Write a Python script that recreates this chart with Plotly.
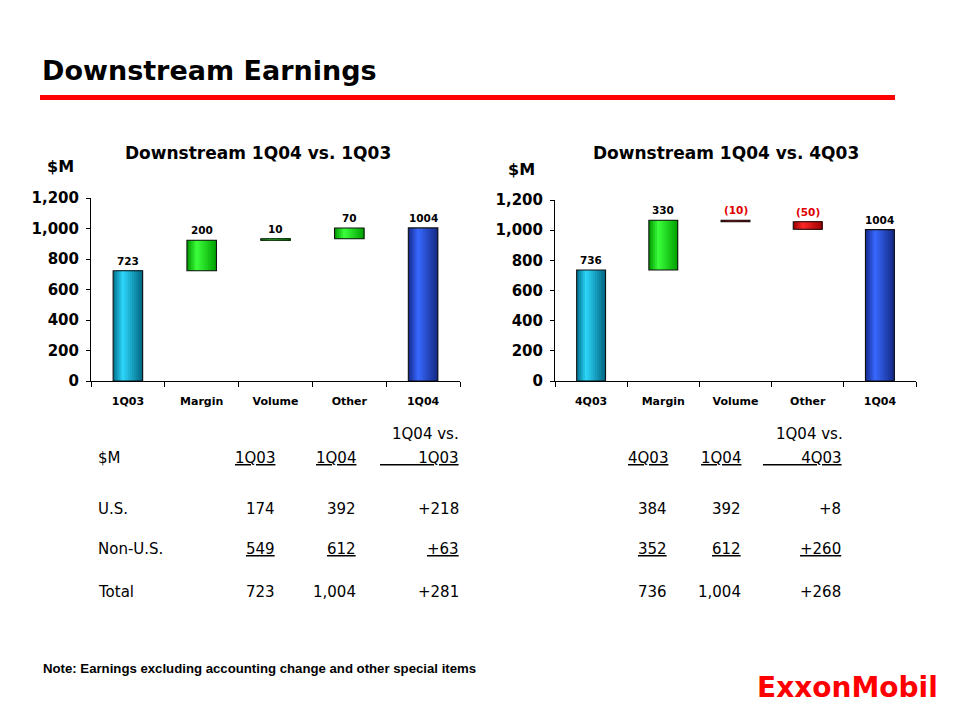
import plotly.graph_objects as go

# ---------------- data ----------------
left_categories = ["1Q03", "Margin", "Volume", "Other", "1Q04"]
left_values = [723, 200, 10, 70, 1004]
left_measures = ["absolute", "relative", "relative", "relative", "total"]

right_categories = ["4Q03", "Margin", "Volume", "Other", "1Q04"]
right_values = [736, 330, -10, -50, 1004]
right_measures = ["absolute", "relative", "relative", "relative", "total"]

y_tick_values = [0, 200, 400, 600, 800, 1000, 1200]

table_rows = ["U.S.", "Non-U.S.", "Total"]
left_table_prev = [174, 549, 723]      # 1Q03
left_table_curr = [392, 612, 1004]     # 1Q04
left_table_diff = [218, 63, 281]
right_table_prev = [384, 352, 736]     # 4Q03
right_table_curr = [392, 612, 1004]    # 1Q04
right_table_diff = [8, 260, 268]

W, H = 959, 719
# the page photo maps figure y -> 7 + 0.98*y; compensate so targets land right
Y_OFF, Y_SCALE = 7.0, 0.98


def px(x):
    return x / W


def py(y):
    return 1 - ((y - Y_OFF) / Y_SCALE) / H


# gradient palettes: (dark left edge, peak, dark right edge)
PAL = {
    "start": ((0, 110, 140), (45, 215, 250), (0, 100, 128)),
    "up": ((0, 150, 0), (60, 255, 60), (0, 160, 0)),
    "down": ((150, 0, 0), (255, 40, 40), (160, 0, 0)),
    "total": ((20, 40, 140), (55, 105, 255), (20, 40, 130)),
}


def shade(kind, t):
    left, peak, right = PAL[kind]
    p = 0.33
    if t < p:
        f = 0.35 + 0.65 * (t / p)
        a, b = left, peak
        c = [a[k] + (b[k] - a[k]) * (f - 0.35) / 0.65 for k in range(3)]
    else:
        f = (t - p) / (1 - p)
        a, b = peak, right
        c = [a[k] + (b[k] - a[k]) * f for k in range(3)]
    return "rgb(%d,%d,%d)" % tuple(int(round(v)) for v in c)


def waterfall_geometry(values, measures):
    bases, heights, tops, kinds = [], [], [], []
    running = 0
    for v, m in zip(values, measures):
        if m == "absolute":
            bases.append(0); heights.append(v); running = v; kinds.append("start")
        elif m == "total":
            bases.append(0); heights.append(v); kinds.append("total")
        else:
            bases.append(running); heights.append(v); running += v
            kinds.append("up" if v >= 0 else "down")
        tops.append(max(bases[-1], bases[-1] + heights[-1]))
    return bases, heights, tops, kinds


fig = go.Figure()
BAR_W = 0.4
N_STRIPS = 14
annotations = []


def add_chart(cats, values, measures, xa, ya):
    bases, heights, tops, kinds = waterfall_geometry(values, measures)
    d = BAR_W / N_STRIPS
    for i in range(N_STRIPS):
        t = (i + 0.5) / N_STRIPS
        fig.add_trace(go.Bar(
            x=cats, y=heights, base=bases,
            width=BAR_W - i * d, offset=-BAR_W / 2 + i * d,
            marker=dict(color=[shade(k, t) for k in kinds], line=dict(width=0)),
            xaxis=xa, yaxis=ya, showlegend=False, hoverinfo="skip"))
    # outline
    fig.add_trace(go.Bar(
        x=cats, y=heights, base=bases, width=BAR_W, offset=-BAR_W / 2,
        marker=dict(color="rgba(0,0,0,0)", line=dict(color="#111111", width=1.1)),
        xaxis=xa, yaxis=ya, showlegend=False, hoverinfo="skip"))
    xr = "x" if xa == "x" else "x2"
    yr = "y" if ya == "y" else "y2"
    for c, v, top, m in zip(cats, values, tops, measures):
        neg = v < 0
        txt = "(%d)" % abs(v) if neg else str(v)
        annotations.append(dict(
            x=c, y=top, xref=xr, yref=yr, text=txt, showarrow=False,
            yanchor="bottom", yshift=2,
            font=dict(family="DejaVu Sans", size=10.5, weight="bold",
                      color="#e00000" if neg else "#000000")))


add_chart(left_categories, left_values, left_measures, "x", "y")
add_chart(right_categories, right_values, right_measures, "x2", "y2")

axis_common_x = dict(
    type="category", range=[-0.5, 4.5], showline=True, linecolor="black",
    linewidth=1, ticks="outside", tickson="boundaries", ticklen=5,
    tickcolor="black", showgrid=False, zeroline=False,
    tickfont=dict(family="DejaVu Sans", size=11, weight="bold", color="black"),
    ticklabelstandoff=10, fixedrange=True)
axis_common_y = dict(
    range=[0, 1200], tickvals=y_tick_values, tickformat=",",
    showline=True, linecolor="black", linewidth=1, ticks="outside",
    ticklen=4, tickcolor="black", showgrid=False, zeroline=False,
    tickfont=dict(family="DejaVu Sans", size=15, weight="bold", color="black"),
    ticklabelstandoff=4, fixedrange=True)

fig.update_layout(
    width=W, height=H, autosize=False,
    margin=dict(l=0, r=0, t=0, b=0),
    paper_bgcolor="white", plot_bgcolor="rgba(0,0,0,0)",
    barmode="overlay", showlegend=False,
    xaxis=dict(domain=[px(91), px(460)], anchor="y", **axis_common_x),
    yaxis=dict(domain=[py(381), py(197)], anchor="x", **axis_common_y),
    xaxis2=dict(domain=[px(555), px(916)], anchor="y2", **axis_common_x),
    yaxis2=dict(domain=[py(381), py(199)], anchor="x2", **axis_common_y),
)

# ---- titles and labels ----
def ptext(x, y, text, size, bold=False, xanchor="left", color="black",
          family="DejaVu Sans"):
    annotations.append(dict(
        x=px(x), y=py(y), xref="paper", yref="paper", text=text,
        showarrow=False, xanchor=xanchor, yanchor="middle",
        font=dict(family=family, size=size, color=color,
                  weight="bold" if bold else "normal")))


ptext(40, 69, "Downstream Earnings", 27, bold=True)
ptext(258, 152, "Downstream 1Q04 vs. 1Q03", 17, bold=True, xanchor="center")
ptext(726, 152, "Downstream 1Q04 vs. 4Q03", 17, bold=True, xanchor="center")
ptext(45, 165, "$M", 16, bold=True)
ptext(506, 168, "$M", 16, bold=True)

# ---- tables ----
TF = 15
NB = "\u00a0" * 8


def fmt(v):
    return "{:,}".format(v)


ptext(96, 458, "$M", TF)
ptext(277, 458, "<u>1Q03</u>", TF, xanchor="right")
ptext(358, 458, "<u>1Q04</u>", TF, xanchor="right")
ptext(461, 434, "1Q04 vs.", TF, xanchor="right")
ptext(461, 458, "<u>" + NB + "1Q03</u>", TF, xanchor="right")

ptext(670, 458, "<u>4Q03</u>", TF, xanchor="right")
ptext(743, 458, "<u>1Q04</u>", TF, xanchor="right")
ptext(845, 434, "1Q04 vs.", TF, xanchor="right")
ptext(844, 458, "<u>" + NB + "4Q03</u>", TF, xanchor="right")

row_y = [510, 550, 593]
for i, name in enumerate(table_rows):
    u0, u1 = ("<u>", "</u>") if i == 1 else ("", "")
    ptext(96, row_y[i], name, TF)
    ptext(277, row_y[i], u0 + fmt(left_table_prev[i]) + u1, TF, xanchor="right")
    ptext(358, row_y[i], u0 + fmt(left_table_curr[i]) + u1, TF, xanchor="right")
    ptext(461, row_y[i], u0 + "+" + fmt(left_table_diff[i]) + u1, TF, xanchor="right")
    ptext(669, row_y[i], u0 + fmt(right_table_prev[i]) + u1, TF, xanchor="right")
    ptext(743, row_y[i], u0 + fmt(right_table_curr[i]) + u1, TF, xanchor="right")
    ptext(843, row_y[i], u0 + "+" + fmt(right_table_diff[i]) + u1, TF, xanchor="right")

ptext(41, 670, "Note: Earnings excluding accounting change and other special items",
      13.2, bold=True, family="Liberation Sans, Arial")
ptext(847, 689, "ExxonMobil", 28, bold=True, xanchor="center", color="#ff0000")

fig.update_layout(annotations=annotations)
fig.add_shape(type="line", xref="paper", yref="paper",
              x0=px(40), x1=px(895), y0=py(96), y1=py(96),
              line=dict(color="#ff0000", width=5))

fig.write_html(
    "out.html",
    config={"displayModeBar": False, "responsive": False},
    post_script=(
        "document.documentElement.style.margin='0';"
        "document.body.style.margin='0';"
        "document.body.style.padding='0';"
    ),
)
